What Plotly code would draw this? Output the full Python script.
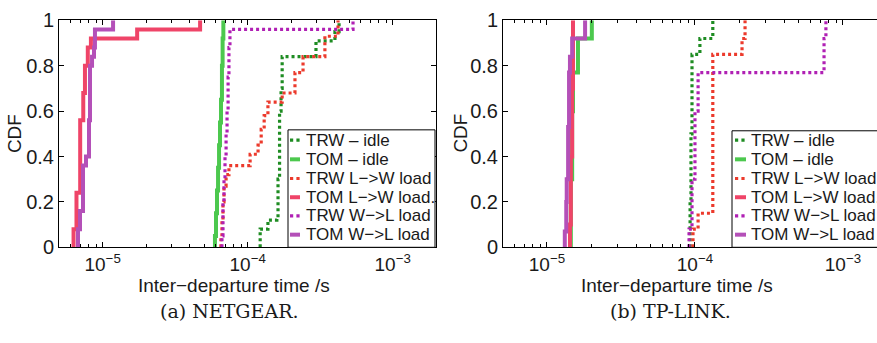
import plotly.graph_objects as go

W, H = 877, 343

names = ["TRW – idle", "TOM – idle", "TRW L−>W load", "TOM L−>W load.", "TRW W−>L load", "TOM W−>L load"]
colors = ["#1E8C22", "#4CC84E", "#EC3A2C", "#EF4468", "#B020B4", "#B450B8"]
dashes = ["3px,3px", "solid", "3px,3px", "solid", "3px,3px", "solid"]
widths = [3.2, 4, 3.2, 4, 3.2, 4]

# ---------------- NETGEAR (a) : step CDFs (jump location, CDF level after jump)
ng_trw_idle_x = [1.22e-4, 1.38e-4, 1.59e-4, 1.62e-4, 1.66e-4, 1.70e-4, 1.73e-4, 2.96e-4, 4.0e-4, 4.27e-4]
ng_trw_idle_y = [0.08, 0.12, 0.13, 0.30, 0.60, 0.70, 0.84, 0.91, 0.95, 1.0]

ng_tom_idle_x = [5.95e-5, 6.05e-5, 6.15e-5, 6.25e-5, 6.35e-5, 6.45e-5, 6.55e-5, 6.65e-5, 6.72e-5, 6.8e-5]
ng_tom_idle_y = [0.05, 0.15, 0.25, 0.35, 0.45, 0.55, 0.65, 0.80, 0.92, 1.0]

ng_trw_lw_x = [6.54e-5, 6.65e-5, 6.76e-5, 6.87e-5, 7.10e-5, 7.43e-5, 1.04e-4, 1.18e-4, 1.24e-4, 1.30e-4,
               1.38e-4, 1.73e-4, 2.12e-4, 2.41e-4, 3.41e-4, 4.20e-4]
ng_trw_lw_y = [0.04, 0.12, 0.20, 0.27, 0.32, 0.36, 0.41, 0.45, 0.52, 0.58,
               0.64, 0.68, 0.77, 0.84, 0.93, 1.0]

ng_tom_lw_x = [6.3e-6, 6.6e-6, 7.0e-6, 7.35e-6, 7.55e-6, 7.9e-6, 8.3e-6, 1.73e-5, 4.7e-5]
ng_tom_lw_y = [0.08, 0.24, 0.56, 0.68, 0.80, 0.88, 0.92, 0.96, 1.0]

ng_trw_wl_x = [6.65e-5, 6.76e-5, 6.87e-5, 6.98e-5, 7.10e-5, 7.21e-5, 7.33e-5, 7.43e-5, 7.55e-5, 5.33e-4]
ng_trw_wl_y = [0.05, 0.20, 0.30, 0.40, 0.50, 0.60, 0.75, 0.88, 0.96, 1.0]

ng_tom_wl_x = [6.76e-6, 6.98e-6, 7.32e-6, 7.68e-6, 8.05e-6, 8.18e-6, 8.45e-6, 8.72e-6, 8.85e-6, 1.18e-5]
ng_tom_wl_y = [0.08, 0.16, 0.36, 0.40, 0.56, 0.80, 0.84, 0.88, 0.96, 1.0]

# ---------------- TP-LINK (b)
tp_trw_idle_x = [9.27e-5, 9.40e-5, 9.55e-5, 1.08e-4, 1.32e-4]
tp_trw_idle_y = [0.20, 0.50, 0.85, 0.92, 1.0]

tp_tom_idle_x = [1.45e-5, 1.48e-5, 1.50e-5, 1.62e-5, 2.01e-5]
tp_tom_idle_y = [0.30, 0.60, 0.77, 0.92, 1.0]

tp_trw_lw_x = [9.70e-5, 1.05e-4, 1.32e-4, 2.08e-4, 2.18e-4]
tp_trw_lw_y = [0.08, 0.15, 0.85, 0.92, 1.0]

tp_tom_lw_x = [1.43e-5, 1.45e-5, 1.48e-5, 1.50e-5]
tp_tom_lw_y = [0.10, 0.40, 0.70, 1.0]

tp_trw_wl_x = [9.12e-5, 9.55e-5, 1.0e-4, 1.05e-4, 7.45e-4, 7.67e-4]
tp_trw_wl_y = [0.08, 0.30, 0.60, 0.77, 0.92, 1.0]

tp_tom_wl_x = [1.32e-5, 1.35e-5, 1.36e-5, 1.39e-5, 1.41e-5, 1.43e-5, 1.48e-5, 1.81e-5]
tp_tom_wl_y = [0.07, 0.20, 0.30, 0.53, 0.77, 0.84, 0.92, 1.0]

panels = [
    ("x", "y", [(ng_trw_idle_x, ng_trw_idle_y), (ng_tom_idle_x, ng_tom_idle_y), (ng_trw_lw_x, ng_trw_lw_y),
                (ng_tom_lw_x, ng_tom_lw_y), (ng_trw_wl_x, ng_trw_wl_y), (ng_tom_wl_x, ng_tom_wl_y)]),
    ("x2", "y2", [(tp_trw_idle_x, tp_trw_idle_y), (tp_tom_idle_x, tp_tom_idle_y), (tp_trw_lw_x, tp_trw_lw_y),
                  (tp_tom_lw_x, tp_tom_lw_y), (tp_trw_wl_x, tp_trw_wl_y), (tp_tom_wl_x, tp_tom_wl_y)]),
]

captions = ["(a) NETGEAR.", "(b) TP-LINK."]
y_ticks = [0, 0.2, 0.4, 0.6, 0.8, 1]
y_tick_text = ["0", "0.2", "0.4", "0.6", "0.8", "1"]
x_ticks = [1e-5, 1e-4, 1e-3]
x_tick_text = ["10<sup>−5</sup>", "10<sup>−4</sup>", "10<sup>−3</sup>"]
x_minor = [m * 10.0 ** k for k in range(-6, -2) for m in range(2, 10)]

fig = go.Figure()
for xa, ya, series in panels:
    for i, (xs, ys) in enumerate(series):
        fig.add_trace(go.Scatter(
            x=[xs[0]] + list(xs), y=[0] + list(ys), mode="lines", line_shape="hv",
            line=dict(color=colors[i], width=widths[i], dash=dashes[i]),
            xaxis=xa, yaxis=ya, showlegend=False, name=names[i]))

def px(x):
    return x / W

def py(y):
    return 1 - y / H

FONT = "Liberation Sans"
TXT = "#1a1a1a"
common_x = dict(type="log", tickvals=x_ticks, ticktext=x_tick_text, ticks="inside", ticklen=5,
                tickcolor="black", showline=True, linecolor="black", linewidth=1, mirror="allticks",
                showgrid=False, zeroline=False, tickfont=dict(family=FONT, size=19, color=TXT),
                ticklabeloverflow="allow",
                minor=dict(tickvals=x_minor, ticks="inside", ticklen=3, tickcolor="black", showgrid=False))
common_y = dict(range=[0, 1], tickvals=y_ticks, ticktext=y_tick_text, ticks="inside", ticklen=5,
                tickcolor="black", showline=True, linecolor="black", linewidth=1,
                ticklabeloverflow="allow",
                showgrid=False, zeroline=False, tickfont=dict(family=FONT, size=20, color=TXT))

ydom = [py(252.5), py(10)]
fig.update_layout(
    width=W, height=H, margin=dict(l=0, r=0, t=0, b=0),
    paper_bgcolor="white", plot_bgcolor="white",
    xaxis=dict(common_x, domain=[px(59), px(436)], range=[-5.301, -2.701], anchor="y"),
    yaxis=dict(common_y, domain=ydom, anchor="x", mirror="allticks"),
    xaxis2=dict(common_x, domain=[px(503), 1.0], range=[-5.297, -2.770], anchor="y2"),
    yaxis2=dict(common_y, domain=ydom, anchor="x2", mirror=False),
)

shapes = []
annotations = []
panel_px = [
    dict(cdf_x=14.5, xt_x=234, cap_x=229, box=(288, 127, 435, 252.5), samp=(290, 300), txt=304),
    dict(cdf_x=461, xt_x=677, cap_x=670, box=(732, 128, 905, 252.5), samp=(735, 746), txt=749),
]
row_y = [138, 158.5, 179, 199, 219, 239]
for p, cap in zip(panel_px, captions):
    annotations.append(dict(text="CDF", x=px(p["cdf_x"]), y=py(131), xref="paper", yref="paper",
                            xanchor="center", yanchor="middle",
                            textangle=-90, showarrow=False, font=dict(family=FONT, size=19, color=TXT)))
    annotations.append(dict(text="Inter−departure time /s", x=px(p["xt_x"]), y=py(293), xref="paper",
                            yref="paper", xanchor="center", yanchor="middle", showarrow=False,
                            font=dict(family=FONT, size=19, color=TXT)))
    annotations.append(dict(text=cap, x=px(p["cap_x"]), y=py(321), xref="paper", yref="paper",
                            xanchor="center", yanchor="middle",
                            showarrow=False, font=dict(family="DejaVu Serif", size=19, color=TXT)))
    x0, y0, x1, y1 = p["box"]
    shapes.append(dict(type="rect", xref="paper", yref="paper", x0=px(x0), x1=px(x1), y0=py(y1), y1=py(y0),
                       line=dict(color="black", width=1), fillcolor="white", layer="above"))
    for i, ry in enumerate(row_y):
        shapes.append(dict(type="line", xref="paper", yref="paper", x0=px(p["samp"][0]), x1=px(p["samp"][1]),
                           y0=py(ry), y1=py(ry), layer="above",
                           line=dict(color=colors[i], width=widths[i], dash=("dot" if dashes[i] != "solid" else "solid"))))
        annotations.append(dict(text=names[i], x=px(p["txt"]), y=py(ry), xref="paper", yref="paper",
                                xanchor="left", yanchor="middle", showarrow=False,
                                font=dict(family=FONT, size=17, color=TXT)))

fig.update_layout(shapes=shapes, annotations=annotations)
fig.write_html(
    "out.html",
    config={"displayModeBar": False},
    post_script="document.documentElement.style.margin='0';document.body.style.margin='0';"
                "document.documentElement.style.overflow='hidden';document.body.style.overflow='hidden';"
                "window.scrollTo(0,0);",
)
